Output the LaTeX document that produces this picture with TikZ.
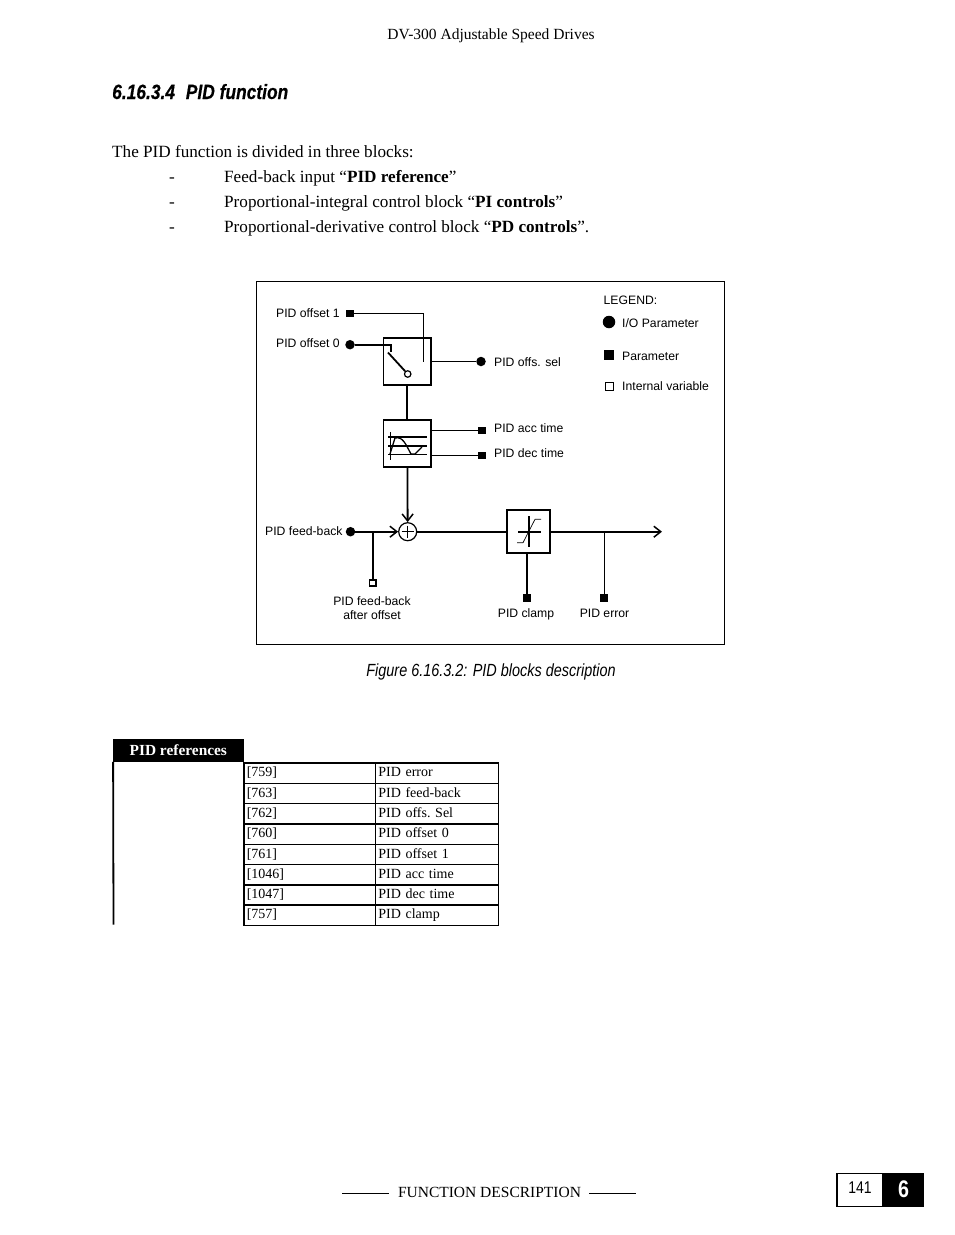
\documentclass[tikz,border=0pt]{standalone}
\usepackage{fontspec}
\usepackage{amsmath}
\usetikzlibrary{arrows.meta}
\setmainfont{Liberation Serif}
\setsansfont{Liberation Sans}
\newfontfamily\narrowfont[FakeStretch=0.82]{Liberation Sans}
\newfontfamily\titlefont[FakeStretch=0.84,FakeBold=0.4,UprightFont=* Bold Italic]{Liberation Sans}
\newcommand{\sz}[1]{\fontsize{#1}{#1}\selectfont}

\tikzset{
  x=1pt, y=-1pt,
  wire/.style={line width=1.8pt},
  thinwire/.style={line width=0.9pt},
  arrowwire/.style={line width=1.8pt,-{Straight Barb[length=7pt,width=11pt,line width=1.5pt]}},
  blockbox/.style={draw,line width=1.8pt,inner sep=0pt},
  iodot/.style={circle,fill=black,inner sep=0pt,minimum size=9.5pt},
  parbox/.style={rectangle,fill=black,inner sep=0pt,minimum size=7.5pt},
  intbox/.style={rectangle,draw,line width=1.7pt,fill=white,inner sep=0pt,minimum size=6.5pt},
  lbl/.style={font=\sffamily\sz{12.2},anchor=base west,inner sep=0pt},
  clbl/.style={font=\sffamily\sz{12.2},align=center,inner sep=0pt},
  bodytext/.style={font=\sz{17.15},anchor=base west,inner sep=0pt},
  cell/.style={draw,line width=1.5pt,font=\frenchspacing\sz{14},anchor=north west,inner xsep=3pt,inner ysep=0pt,
    align=left,text height=10.4pt,text depth=3.1pt,minimum height=20.3pt},
}

\begin{document}
\begin{tikzpicture}
\useasboundingbox (0,0) rectangle (954,1235);

% page head and text
\node[font=\sz{15.5},anchor=base,inner sep=0pt] (head) at (491,39) {DV-300 Adjustable Speed Drives};
\node[font=\titlefont\sz{20.7},anchor=base west,inner sep=0pt] (title) at (112,99) {6.16.3.4\hspace{6pt} PID function};
\node[bodytext] (intro) at (112,157) {The PID function is divided in three blocks:};
\node[bodytext] (dasha) at (169,182) {-};
\node[bodytext] (itema) at (224,182) {Feed-back input “\textbf{PID reference}”};
\node[bodytext] (dashb) at (169,207) {-};
\node[bodytext] (itemb) at (224,207) {Proportional-integral control block “\textbf{PI controls}”};
\node[bodytext] (dashc) at (169,232) {-};
\node[bodytext] (itemc) at (224,232) {Proportional-derivative control block “\textbf{PD controls}”.};

% figure frame
\draw[line width=1pt] (256.5,281) rectangle (724.5,644.5);

% blocks
\node[blockbox,minimum size=47.5pt] (sw) at (407.3,361.5) {};
\node[blockbox,minimum size=47.5pt] (ramp) at (407.3,443.5) {};
\node[blockbox,minimum size=43pt] (lim) at (528.3,531.7) {};
\node[draw,circle,line width=1.2pt,inner sep=0pt,minimum size=18pt] (sum) at (407.7,531.7) {};
\draw[line width=0.9pt] (401.7,531.7) -- (413.7,531.7);
\draw[line width=0.9pt] (407.7,525.7) -- (407.7,537.7);

% terminals and labels
\node[parbox] (ofa) at (350,313.3) {};
\node[iodot] (ofb) at (350,344.7) {};
\node[iodot] (offsel) at (481,361.5) {};
\node[parbox] (acc) at (482,430.7) {};
\node[parbox] (dec) at (482,455.5) {};
\node[iodot] (fb) at (350.5,531.7) {};
\node[intbox] (fbo) at (372.7,583) {};
\node[parbox] (clamp) at (527,598) {};
\node[parbox] (err) at (604,598) {};
\node[lbl] (ofat) at (276,317.8) {PID offset 1};
\node[lbl] (ofbt) at (276,347.8) {PID offset 0};
\node[lbl] (offselt) at (494,366) {PID offs. sel};
\node[lbl] (acct) at (494,432.8) {PID acc time};
\node[lbl] (dect) at (494,457.8) {PID dec time};
\node[lbl] (fbt) at (265,535.5) {PID feed-back};
\node[clbl] (fbot) at (372,608) {PID feed-back\\[2pt]after offset};
\node[lbl,anchor=base] (clampt) at (526,617.5) {PID clamp};
\node[lbl,anchor=base] (errt) at (604.5,617.5) {PID error};

% legend
\node[lbl] (leg) at (603.5,304.5) {LEGEND:};
\node[iodot,minimum size=12.5pt] (legio) at (609,322) {};
\node[parbox,minimum size=9.5pt] (legpar) at (609,355) {};
\node[intbox,minimum size=8pt] (legint) at (609.5,386.5) {};
\node[lbl] (legiot) at (622,327) {I/O Parameter};
\node[lbl] (legpart) at (622,360.5) {Parameter};
\node[lbl] (leginit) at (622,390) {Internal variable};

% switch
\coordinate (swa) at (391,352);
\coordinate (swb) at (423,362);
\coordinate (armtop) at (388,352.5);
\node[draw,circle,line width=1.2pt,fill=white,inner sep=0pt,minimum size=6.5pt] (pivot) at (407.7,374) {};
\draw[thinwire] (ofa) -| (swb);
\draw[wire] (ofb) -| (swa);
\draw[wire] (armtop) -- (pivot);
\draw[wire] (sw.east |- offsel) -- (offsel);
\draw[wire] (sw) -- (ramp);
\draw[thinwire] (ramp.east |- acc) -- (acc);
\draw[wire] (ramp.east |- dec) -- (dec);

% ramp symbol
\draw[line width=1.3pt] (388,437) -- (427,437);
\draw[line width=1.3pt] (388,446) -- (427,446);
\draw[line width=1.3pt] (388,454.5) -- (427,454.5);
\draw[line width=0.8pt] (390,432) -- (390,460);
\draw[line width=1.3pt] (390,454) -- (395,438) .. controls (403,436) and (406,445) .. (411,454) -- (415,454) -- (422,447);

% feed-back path
\coordinate (fbj) at (372.7,531.7);
\draw[arrowwire] (fb) -- (sum);
\draw[wire] (fbj) -- (fbo);
\draw[arrowwire] (ramp) -- (sum);
\draw[wire] (sum) -- (lim);

% limiter
\coordinate (outp) at (662,531.7);
\coordinate (errj) at (604,531.7);
\draw[arrowwire] (lim) -- (outp);
\draw[thinwire] (errj) -- (err);
\draw[wire] (lim.south -| clamp) -- (clamp);
\draw[line width=1.6pt] (518,532) -- (541,532);
\draw[line width=1.6pt] (528.7,516) -- (528.7,547);
\draw[line width=0.7pt] (517,542.7) -- (523,542.7) -- (535,519.3) -- (541,519.3);

\node[font=\narrowfont\itshape\sz{17.6},anchor=base,inner sep=0pt] (cap) at (491,676) {Figure 6.16.3.2: PID blocks description};

% table
\node[fill=black,text=white,font=\bfseries\sz{15.4},inner sep=0pt,minimum width=131pt,minimum height=22.7pt] (tabhead) at (178.3,750.3) {PID references};
\coordinate (tabbot) at (113.5,924.5);
\draw[line width=1.8pt] (tabhead.south west) ++(0.5,0) -- (tabbot);
\foreach \i/\num/\name in {0/{[759]}/PID error,1/{[763]}/PID feed-back,2/{[762]}/PID offs. Sel,3/{[760]}/PID offset 0,
  4/{[761]}/PID offset 1,5/{[1046]}/PID acc time,6/{[1047]}/PID dec time,7/{[757]}/PID clamp}{
  \node[cell,text width=125.6pt] (num\i) at (243,762.3+20.3*\i) {\num};
  \node[cell,text width=117.3pt] (nam\i) at (374.6,762.3+20.3*\i) {\name};
}

% page foot
\node[font=\sz{15.5},anchor=base,inner sep=0pt] (foot) at (489.5,1197) {FUNCTION DESCRIPTION};
\draw[line width=0.4pt] ([xshift=-9pt,yshift=4pt]foot.base west) -- ++(-47,0);
\draw[line width=0.4pt] ([xshift=8pt,yshift=4pt]foot.base east) -- ++(47,0);
\node[draw,line width=1.1pt,minimum width=46pt,minimum height=33.5pt,inner sep=0pt] (pagebox) at (860,1190) {};
\node[font=\narrowfont\sz{17},inner sep=0pt] (pagenr) at (860,1188) {141};
\node[fill=black,text=white,inner sep=0pt,minimum width=41pt,minimum height=34pt,font=\narrowfont\bfseries\sz{24}] (chap) at (903.5,1190) {\raisebox{2pt}{6}};
\end{tikzpicture}
\end{document}
